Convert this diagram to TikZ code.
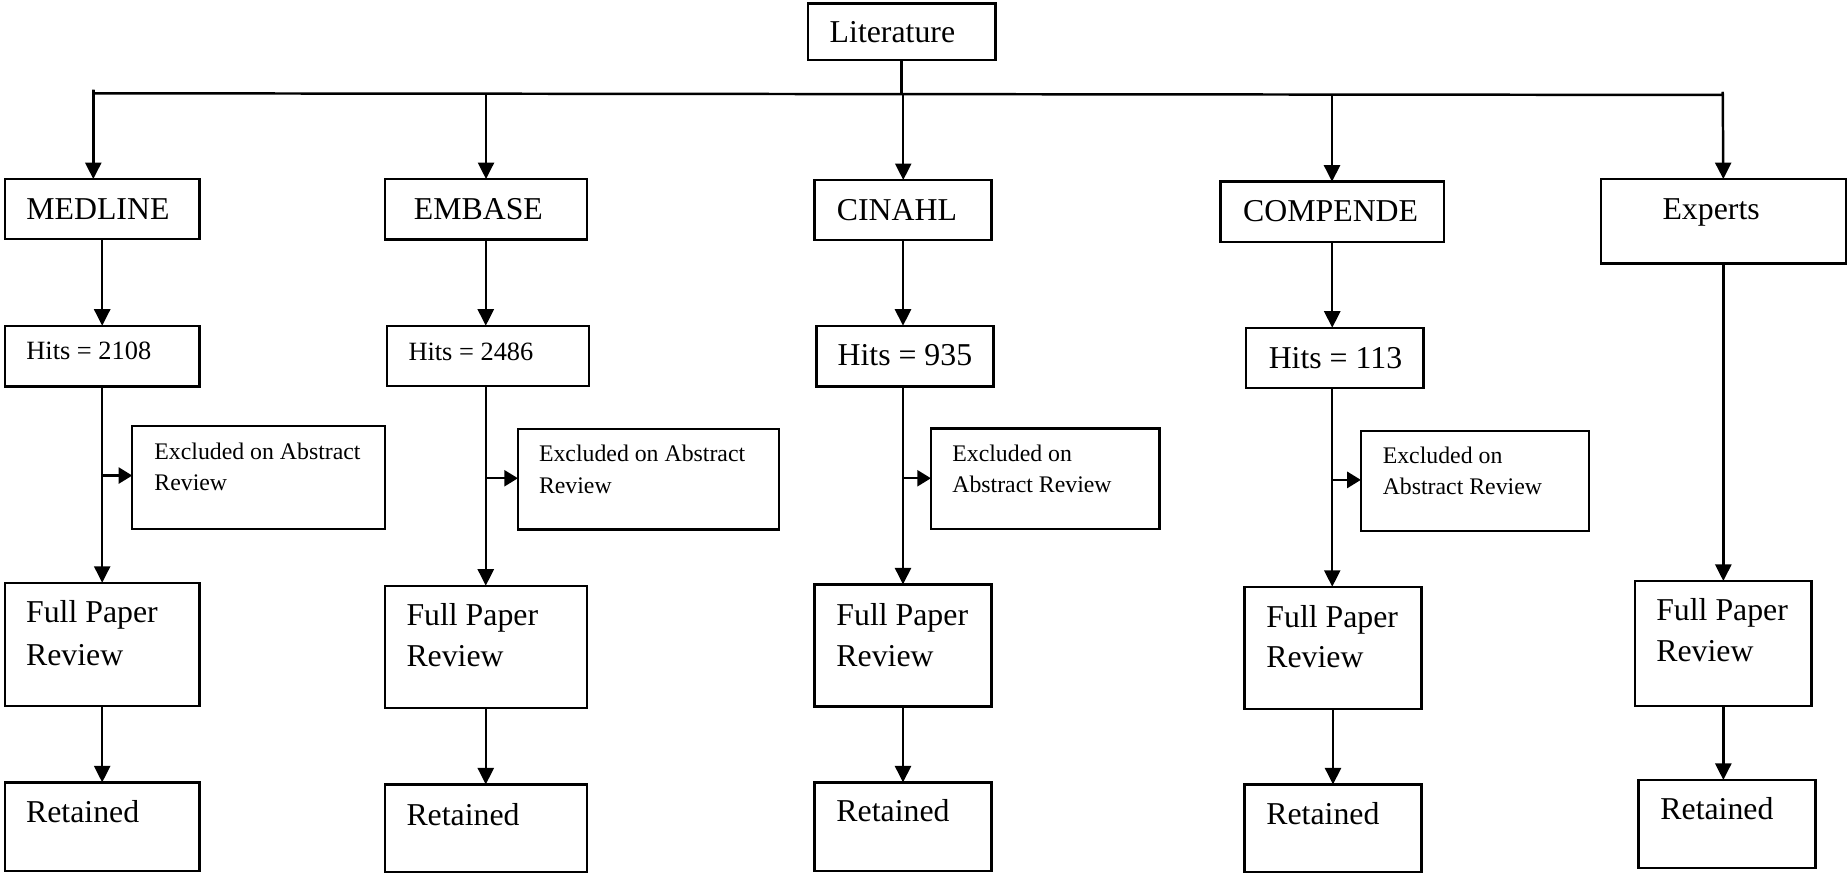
\documentclass[tikz,border=0pt]{standalone}
\usepackage{fontspec}
\setmainfont{Liberation Serif}
\usetikzlibrary{arrows.meta}
\newcommand{\bx}[5]{\node[box, minimum width={(#4-#2)*0.5pt}, minimum height={(#5-#3)*0.5pt}] (#1) at (#2,#3) {};}
\begin{document}
\begin{tikzpicture}[x=0.5pt,y=-0.5pt,
  box/.style={draw=black, line width=1pt, inner sep=0pt, outer sep=0pt, anchor=north west},
  big/.style={inner sep=0pt, anchor=base west, font=\fontsize{13.5}{16}\selectfont},
  mid/.style={inner sep=0pt, anchor=base west, font=\fontsize{11.2}{13}\selectfont},
  small/.style={inner sep=0pt, anchor=base west, font=\fontsize{10.1}{12}\selectfont},
  ln/.style={line width=1.05pt},
  arr/.style={line width=1.05pt, -{Triangle[length=7pt,width=6.8pt]}},
  arrb/.style={line width=1.05pt, -{Triangle[length=5.8pt,width=6.8pt]}}]
\fill[white] (0,0) rectangle (1568,741);
\useasboundingbox (0,0) rectangle (1568,741);
% boxes
\bx{lit}{686}{3}{845}{51}
\bx{med}{4}{152}{169.5}{203}
\bx{emb}{326.6}{152}{498.2}{203.2}
\bx{cin}{691.6}{152.8}{841.6}{203.7}
\bx{com}{1036}{154.2}{1226}{205.2}
\bx{exp}{1359}{152}{1567}{223.8}
\bx{h1}{4}{276.5}{169.5}{328.2}
\bx{h2}{328.3}{276.5}{500.2}{327.7}
\bx{h3}{693.3}{276.5}{843.3}{328.2}
\bx{h4}{1058}{278.2}{1208.5}{329.6}
\bx{x1}{112.3}{361.4}{327.1}{449.3}
\bx{x2}{439.7}{364.2}{661.4}{449.4}
\bx{x3}{790.3}{363.9}{984.3}{449}
\bx{x4}{1155.3}{365.9}{1349}{450.8}
\bx{f1}{4}{494.7}{169.5}{599.4}
\bx{f2}{326.6}{497.2}{498.2}{601.3}
\bx{f3}{691.6}{496.1}{841.6}{599.9}
\bx{f4}{1056.5}{498.1}{1206.8}{601.9}
\bx{f5}{1388.2}{493.2}{1537.8}{599.3}
\bx{r1}{4}{664.2}{169.5}{739.4}
\bx{r2}{326.6}{665.9}{498.2}{740.2}
\bx{r3}{691.6}{664.2}{841.6}{739.4}
\bx{r4}{1056.5}{665.9}{1206.8}{740.2}
\bx{r5}{1391}{662.1}{1541.3}{737.1}
% texts
\node[big] (litt) at (704,36.2) {Literature};
\node[big] (medt) at (22,186) {MEDLINE};
\node[big] (embt) at (351,186) {EMBASE};
\node[big] (cint) at (710,187) {CINAHL};
\node[big] (comt) at (1055,188) {COMPENDE};
\node[big] (expt) at (1411,186) {Experts};
\node[mid] (h1t) at (22,305.6) {Hits = 2108};
\node[mid] (h2t) at (346.4,306) {Hits = 2486};
\node[big] (h3t) at (710.7,310.4) {Hits = 935};
\node[big] (h4t) at (1076.7,312.7) {Hits = 113};
\node[small] (x1a) at (130.7,390) {Excluded on Abstract};
\node[small] (x1b) at (130.7,416) {Review};
\node[small] (x2a) at (457.2,391.9) {Excluded on Abstract};
\node[small] (x2b) at (457.2,418.8) {Review};
\node[small] (x3a) at (808.1,391.9) {Excluded on};
\node[small] (x3b) at (808.1,418.2) {Abstract Review};
\node[small] (x4a) at (1173.5,393.3) {Excluded on};
\node[small] (x4b) at (1173.5,420.2) {Abstract Review};
\node[big] (f1a) at (21.8,528.6) {Full Paper};
\node[big] (f1b) at (21.8,564.6) {Review};
\node[big] (f2a) at (344.7,530.6) {Full Paper};
\node[big] (f2b) at (344.7,566) {Review};
\node[big] (f3a) at (709.7,530.6) {Full Paper};
\node[big] (f3b) at (709.7,566) {Review};
\node[big] (f4a) at (1074.7,532.9) {Full Paper};
\node[big] (f4b) at (1074.7,566.8) {Review};
\node[big] (f5a) at (1405.7,526.4) {Full Paper};
\node[big] (f5b) at (1405.7,561.7) {Review};
\node[big] (r1t) at (21.8,698.4) {Retained};
\node[big] (r2t) at (344.7,700.4) {Retained};
\node[big] (r3t) at (709.7,697.5) {Retained};
\node[big] (r4t) at (1074.7,699.8) {Retained};
\node[big] (r5t) at (1409.2,695.6) {Retained};
% bus
\coordinate (t1) at (79.2,76);
\coordinate (bl) at (79.2,79.2);
\coordinate (br) at (1462.5,80.6);
\coordinate (t5) at (1462.5,78);
\coordinate (c2) at (412.6,79.5);
\coordinate (c3) at (766.8,79.9);
\coordinate (c4) at (1130.8,80.3);
\draw[ln] (t1) -- (bl) -- (br) -- (t5);
\draw[ln] (lit.south) -- (lit.south |- c3);
\draw[arr] (t1) -- (t1 |- med.north);
\draw[arr] (c2) -- (c2 |- emb.north);
\draw[arr] (c3) -- (c3 |- cin.north);
\draw[arr] (c4) -- (c4 |- com.north);
\draw[arr] (t5) -- (exp.north);
% columns
\draw[arr] (med.south) -- (med.south |- h1.north);
\draw[arr] (h1.south) -- (h1.south |- f1.north);
\draw[arr] (f1.south) -- (r1.north);
\draw[arr] (emb.south) -- (emb.south |- h2.north);
\draw[arr] (emb.south |- h2.south) -- (f2.north);
\draw[arr] (f2.south) -- (r2.north);
\draw[arr] (cin.south) -- (cin.south |- h3.north);
\draw[arr] (cin.south |- h3.south) -- (cin.south |- f3.north);
\draw[arr] (f3.south) -- (r3.north);
\draw[arr] (com.south) -- (com.south |- h4.north);
\draw[arr] (com.south |- h4.south) -- (com.south |- f4.north);
\draw[arr] (f4.south) -- (f4.south |- r4.north);
\draw[arr] (exp.south) -- (exp.south |- f5.north);
\draw[arr] (f5.south) -- (f5.south |- r5.north);
% branches to excluded boxes
\coordinate (b1) at (86.75,403.7);
\coordinate (b2) at (412.4,406);
\coordinate (b3) at (766.6,406);
\coordinate (b4) at (1131,407.4);
\draw[arrb] (b1) -- (b1 -| x1.west);
\draw[arrb] (b2) -- (b2 -| x2.west);
\draw[arrb] (b3) -- (b3 -| x3.west);
\draw[arrb] (b4) -- (b4 -| x4.west);
\end{tikzpicture}
\end{document}
